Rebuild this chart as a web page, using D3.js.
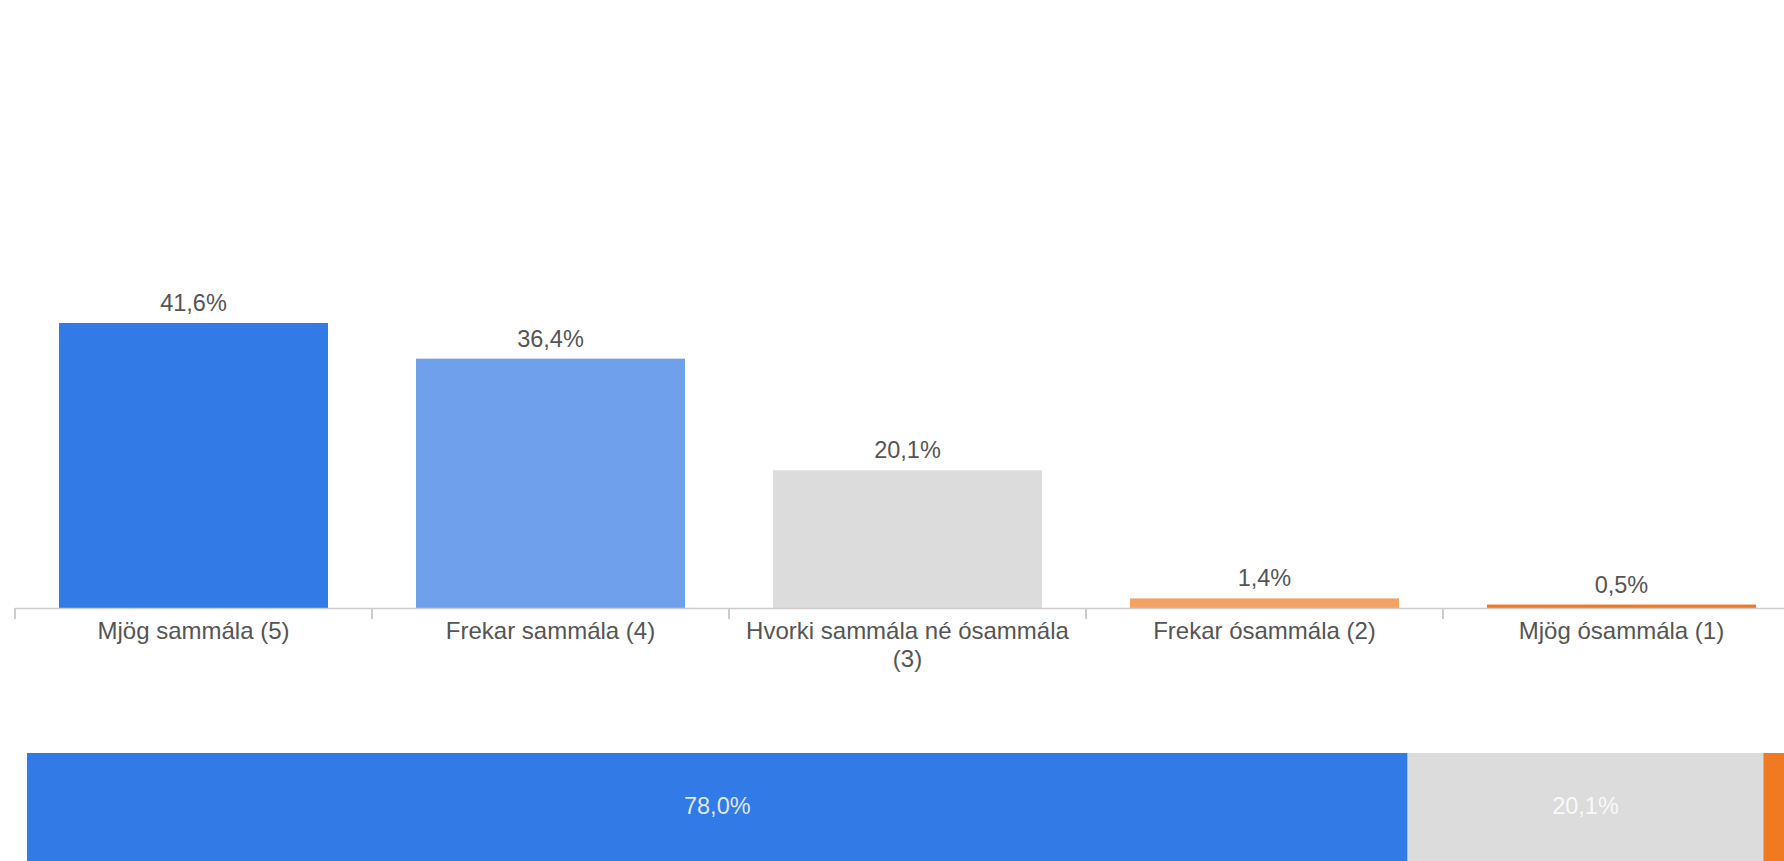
<!DOCTYPE html>
<html>
<head>
<meta charset="utf-8">
<script src="https://cdn.jsdelivr.net/npm/d3@7/dist/d3.min.js"></script>
<style>
  html, body { margin: 0; padding: 0; background: #fff; }
  svg { display: block; }
  text { font-family: "Liberation Sans", Arial, sans-serif; }
</style>
</head>
<body>
<svg id="chart" width="1784" height="861"></svg>
<script>
const categories = ["Mjög sammála (5)", "Frekar sammála (4)", "Hvorki sammála né ósammála (3)", "Frekar ósammála (2)", "Mjög ósammála (1)"];
const values = [41.6, 36.4, 20.1, 1.4, 0.5];
const barColors = ["#327AE6", "#6FA0EC", "#DCDCDC", "#F4A263", "#F07A22"];

const summaryGroups = ["Sammála", "Hlutlaus", "Ósammála"];
const summaryValues = [78.0, 20.1, 1.9];
const summaryColors = ["#327AE6", "#DCDCDC", "#F07A22"];

const W = 1784, H = 861;
const svg = d3.select("#chart");
const locale = d3.formatLocale({decimal: ",", thousands: ".", grouping: [3], currency: ["", " kr."]});
const fmt = v => locale.format(".1f")(v) + "%";

// Top bar chart
const baseY = 608;
const x = d3.scaleBand().domain(categories).range([15, 1800]).paddingInner(0.2465).paddingOuter(0.2465 / 2);
const y = d3.scaleLinear().domain([0, 60]).range([baseY, baseY - 60 * 6.851]);

const g = svg.append("g");
g.selectAll("rect.bar").data(categories).join("rect")
  .attr("class", "bar")
  .attr("x", d => x(d))
  .attr("width", x.bandwidth())
  .attr("y", (d, i) => y(values[i]))
  .attr("height", (d, i) => y(0) - y(values[i]))
  .attr("fill", (d, i) => barColors[i]);

g.selectAll("text.val").data(categories).join("text")
  .attr("class", "val")
  .attr("x", d => x(d) + x.bandwidth() / 2)
  .attr("y", (d, i) => y(values[i]) - 12)
  .attr("text-anchor", "middle")
  .attr("font-size", 23.5)
  .attr("fill", "#555")
  .text((d, i) => fmt(values[i]));

// axis
const step = x.step();
const axisG = svg.append("g");
axisG.append("line")
  .attr("x1", 15).attr("x2", W).attr("y1", baseY + 0.5).attr("y2", baseY + 0.5)
  .attr("stroke", "#cccccc").attr("stroke-width", 1.5);
const boundaries = categories.map(d => x(d) - x.step() * x.paddingInner() / 2);
axisG.selectAll("line.tick").data(boundaries).join("line")
  .attr("class", "tick")
  .attr("x1", d => d).attr("x2", d => d)
  .attr("y1", baseY).attr("y2", baseY + 11)
  .attr("stroke", "#cccccc").attr("stroke-width", 2);

function wrapLines(text, maxW, size) {
  const ctx = document.createElement("canvas").getContext("2d");
  ctx.font = size + "px 'Liberation Sans', Arial";
  const words = text.split(" ");
  const lines = [];
  let cur = "";
  words.forEach(w => {
    const t = cur ? cur + " " + w : w;
    if (ctx.measureText(t).width > maxW && cur) { lines.push(cur); cur = w; }
    else cur = t;
  });
  if (cur) lines.push(cur);
  return lines;
}

const labels = axisG.selectAll("text.cat").data(categories).join("text")
  .attr("class", "cat")
  .attr("text-anchor", "middle")
  .attr("font-size", 24)
  .attr("fill", "#555");
labels.each(function(d) {
  const lines = wrapLines(d, step - 10, 24);
  const t = d3.select(this);
  lines.forEach((ln, k) => {
    t.append("tspan")
      .attr("x", x(d) + x.bandwidth() / 2)
      .attr("y", baseY + 31 + k * 27.5)
      .text(ln);
  });
});

// Bottom stacked summary bar
const total = d3.sum(summaryValues);
const sx = d3.scaleLinear().domain([0, total]).range([27, 1797]);
let acc = 0;
const segs = summaryValues.map((v, i) => { const s = {name: summaryGroups[i], v, x0: acc, x1: acc + v, c: summaryColors[i]}; acc += v; return s; });
const sg = svg.append("g");
sg.selectAll("rect").data(segs).join("rect")
  .attr("x", d => sx(d.x0))
  .attr("width", d => sx(d.x1) - sx(d.x0))
  .attr("y", 753)
  .attr("height", 110)
  .attr("fill", d => d.c);
sg.selectAll("text").data(segs.filter(d => sx(d.x1) - sx(d.x0) > 80)).join("text")
  .attr("x", d => (sx(d.x0) + sx(d.x1)) / 2)
  .attr("y", 814)
  .attr("text-anchor", "middle")
  .attr("font-size", 23.5)
  .attr("fill", "rgba(255,255,255,0.85)")
  .text(d => fmt(d.v));
</script>
</body>
</html>
